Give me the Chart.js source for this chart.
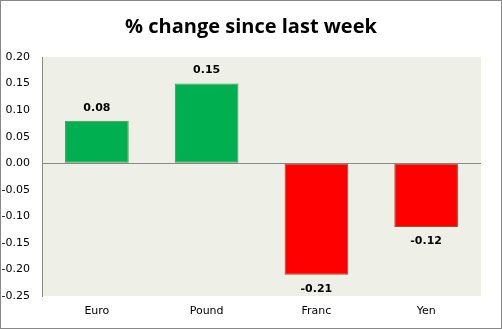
<!DOCTYPE html>
<html>
<head>
<meta charset="utf-8">
<script src="https://cdn.jsdelivr.net/npm/chart.js@4/dist/chart.umd.min.js"></script>
<style>
  html, body { margin: 0; padding: 0; background: #fff; }
  #wrap { width: 502px; height: 329px; position: relative; }
</style>
</head>
<body>
<div id="wrap"><canvas id="changeChart" width="502" height="329"></canvas></div>
<script>
const currencies = ["Euro", "Pound", "Franc", "Yen"];
const weeklyChange = [0.08, 0.15, -0.21, -0.12];
const yTicks = [0.20, 0.15, 0.10, 0.05, 0.00, -0.05, -0.10, -0.15, -0.20, -0.25];

const barColor = v => (v >= 0 ? "#00B050" : "#FF0000");
const barEdge = v => (v >= 0 ? "#4F8F4F" : "#A0522D");

// plot background, title, outer frame and value labels
const excelLook = {
  id: "excelLook",
  beforeDraw(chart) {
    const { ctx, chartArea: a } = chart;
    ctx.save();
    ctx.fillStyle = "#EEF0E7";
    ctx.fillRect(a.left, a.top, a.right - a.left, a.bottom - a.top);
    ctx.restore();
  },
  afterDraw(chart) {
    const { ctx } = chart;
    ctx.save();
    ctx.strokeStyle = "#888";
    ctx.lineWidth = 1;
    ctx.strokeRect(0.5, 0.5, chart.width - 1, chart.height - 1);

    ctx.fillStyle = "#000";
    ctx.font = "bold 20px 'Open Sans', sans-serif";
    ctx.textAlign = "center";
    ctx.textBaseline = "middle";
    ctx.fillText("% change since last week", 251, 27);

    ctx.font = "bold 11px 'DejaVu Sans', sans-serif";
    const meta = chart.getDatasetMeta(0);
    meta.data.forEach((bar, i) => {
      const v = weeklyChange[i];
      const y = v >= 0 ? bar.y - 13 : bar.y + 14;
      ctx.fillText(v.toFixed(2), bar.x, y);
    });
    ctx.restore();
  }
};

new Chart("changeChart", {
  type: "bar",
  data: {
    labels: currencies,
    datasets: [{
      data: weeklyChange,
      backgroundColor: weeklyChange.map(barColor),
      borderColor: weeklyChange.map(barEdge),
      borderWidth: 1,
      borderSkipped: false,
      categoryPercentage: 1,
      barPercentage: 0.58
    }]
  },
  options: {
    responsive: false,
    animation: false,
    layout: { padding: { top: 57, right: 21, left: 0, bottom: 0 } },
    plugins: { legend: { display: false }, tooltip: { enabled: false } },
    scales: {
      x: {
        grid: { display: false, drawTicks: false },
        border: { display: false },
        ticks: { color: "#000", padding: 9, font: { family: "'DejaVu Sans', sans-serif", size: 11 } },
        afterFit: s => { s.height = 33; }
      },
      y: {
        min: -0.25,
        max: 0.2,
        afterBuildTicks: s => { s.ticks = yTicks.map(v => ({ value: v })); },
        grid: {
          drawTicks: false,
          color: c => (Math.abs(c.tick.value) < 1e-9 ? "#888" : "rgba(0,0,0,0)"),
          lineWidth: 1
        },
        border: { display: true, color: "#888" },
        ticks: {
          color: "#000",
          padding: 12,
          font: { family: "'DejaVu Sans', sans-serif", size: 11 },
          callback: v => Number(v).toFixed(2)
        },
        afterFit: s => { s.width = 42; }
      }
    }
  },
  plugins: [excelLook]
});
</script>
</body>
</html>
